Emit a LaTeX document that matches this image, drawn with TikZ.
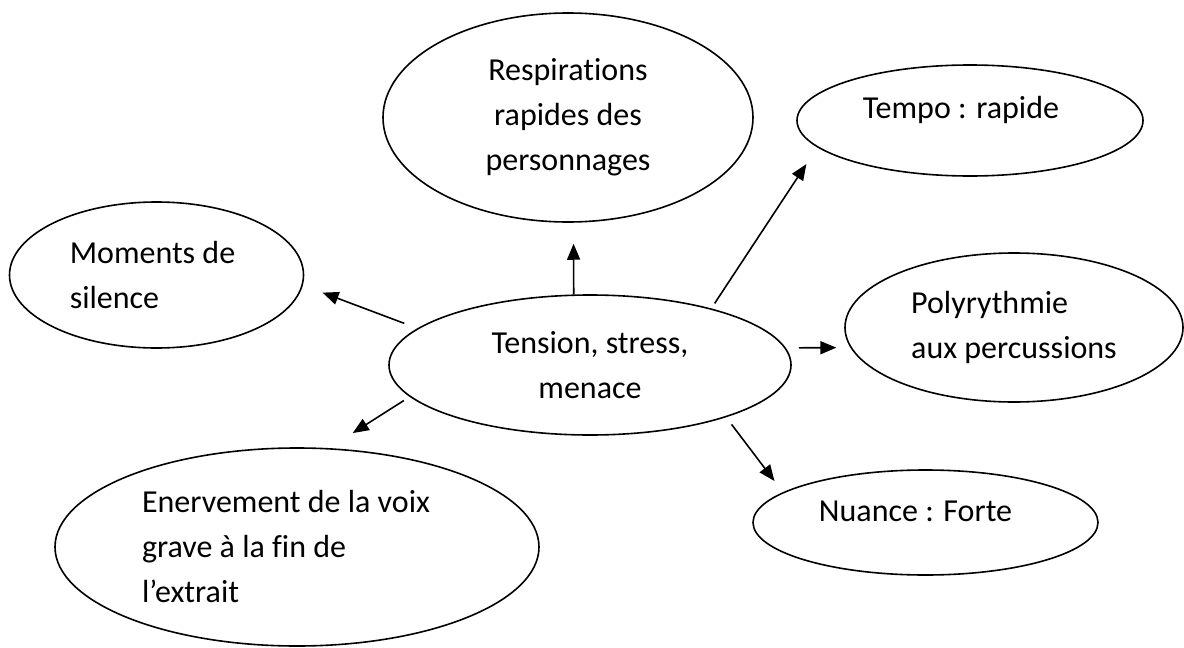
\documentclass[tikz,border=0pt]{standalone}
\usepackage{fontspec}
\setmainfont{Carlito}[Ligatures=NoCommon]
\usetikzlibrary{arrows.meta,shapes.geometric}

\begin{document}
\begin{tikzpicture}[x=1pt,y=-1pt,
    bulle/.style={draw,ellipse,line width=1.6pt,inner sep=0pt,font=\fontsize{32}{45}\selectfont},
    fleche/.style={line width=1.6pt,-{Triangle[length=16pt,width=13pt]}}]
      \useasboundingbox (0,0) rectangle (1184,648);
      \node [bulle,minimum width=402pt,minimum height=140pt,align=center] (tens) at (590,365) {Tension, stress,\\menace};
      \node [bulle,minimum width=370pt,minimum height=209pt,align=center] (resp) at (568,117.5) {Respirations\\rapides des\\personnages};
      \node [bulle,minimum width=346pt,minimum height=111pt,text depth=26pt] (tempo) at (970,120.5) {Tempo : rapide\hspace*{18pt}};
      \node [bulle,minimum width=294pt,minimum height=146pt,align=left] (silence) at (156.5,275) {Moments de\hspace*{8pt}\\silence};
      \node [bulle,minimum width=338pt,minimum height=149pt,align=left] (poly) at (1014,327.5) {Polyrythmie\\aux percussions};
      \node [bulle,minimum width=484pt,minimum height=198pt,align=left] (voix) at (297,547) {Enervement de la voix\hspace*{22pt}\\grave à la fin de\\l’extrait};
      \node [bulle,minimum width=345pt,minimum height=105pt,text depth=22pt] (nuance) at (925.5,522.5) {Nuance : Forte\hspace*{20pt}};
      \draw [fleche,shorten >=21pt] (tens.103.7) -- (resp.-87.3);
      \draw [fleche,shorten <=14pt,shorten >=21pt] (tens.168.2) -- (silence.-4.2);
      \draw [fleche,shorten <=7pt,shorten >=28pt] (tens.190.2) -- (voix.72.4);
      \draw [fleche,shorten <=6pt,shorten >=20pt] (tens.25.9) -- (tempo.190.5);
      \draw [fleche,shorten <=13pt,shorten >=14pt] (tens.5) -- (poly.187.2);
      \draw [fleche,shorten <=9pt,shorten >=14pt] (tens.-21.4) -- (nuance.168.7);
\end{tikzpicture}
\end{document}
